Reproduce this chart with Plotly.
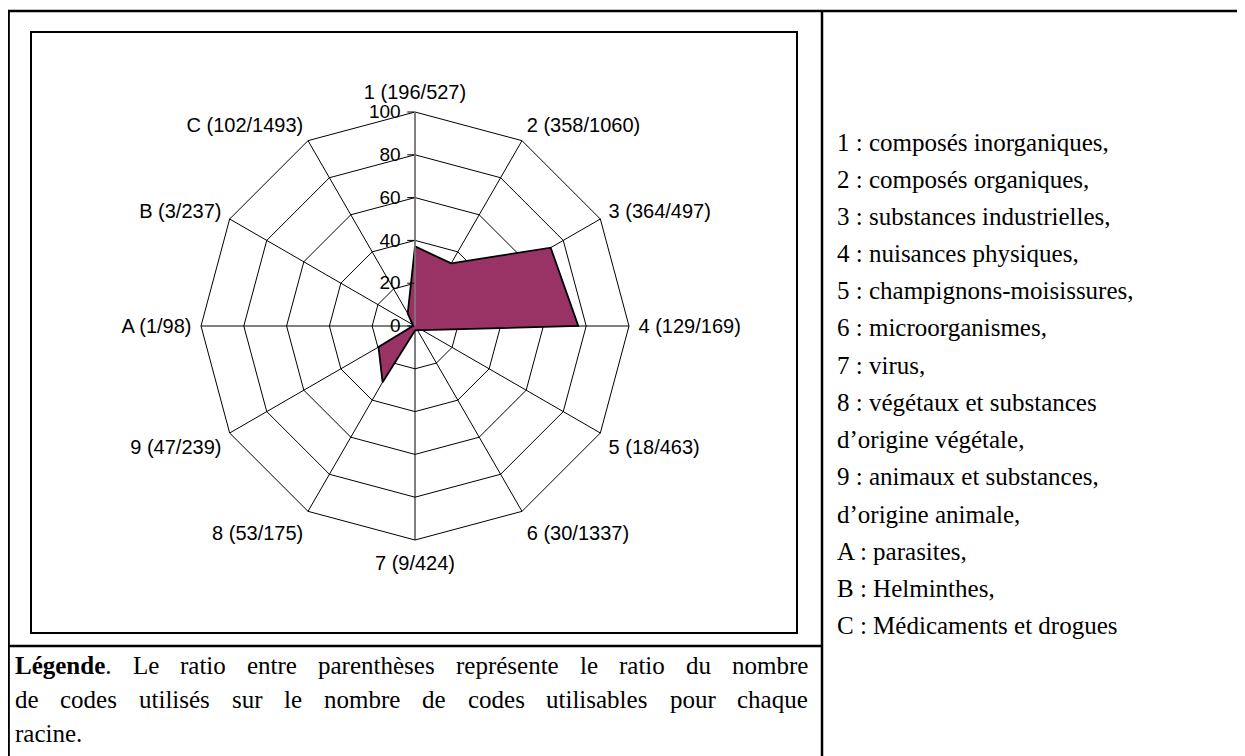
import plotly.graph_objects as go

# ---------------- data ----------------
codes = ["1", "2", "3", "4", "5", "6", "7", "8", "9", "A", "B", "C"]
used = [196, 358, 364, 129, 18, 30, 9, 53, 47, 1, 3, 102]
usable = [527, 1060, 497, 169, 463, 1337, 424, 175, 239, 98, 237, 1493]
values = [37.2, 33.8, 73.2, 76.3, 3.9, 2.2, 2.1, 30.3, 19.7, 1.0, 1.3, 6.8]
radial_ticks = [0, 20, 40, 60, 80, 100]

legend_lines = [
    "1 : composés inorganiques,",
    "2 : composés organiques,",
    "3 : substances industrielles,",
    "4 : nuisances physiques,",
    "5 : champignons-moisissures,",
    "6 : microorganismes,",
    "7 : virus,",
    "8 : végétaux et substances",
    "d\u2019origine végétale,",
    "9 : animaux et substances,",
    "d\u2019origine animale,",
    "A : parasites,",
    "B : Helminthes,",
    "C : Médicaments et drogues",
]
caption_lines = [
    ["<b>Légende</b>.", "Le", "ratio", "entre", "parenthèses", "représente", "le", "ratio", "du", "nombre"],
    ["de", "codes", "utilisés", "sur", "le", "nombre", "de", "codes", "utilisables", "pour", "chaque"],
    ["racine."],
]

labels = [f"{c} ({u}/{t})" for c, u, t in zip(codes, used, usable)]

# page has an 8px body margin: work in window pixels and convert
OFF = 8
WIN_W, WIN_H = 1245, 756
W, H = WIN_W - OFF, WIN_H - OFF
SANS = "Liberation Sans, Arial, sans-serif"
SERIF = "Liberation Serif, Times New Roman, serif"

def px(x):
    return (x - OFF) / W

def py(y):
    return 1 - (y - OFF) / H

# chart geometry (window pixels)
cx, cy, R = 415, 326, 214

fig = go.Figure()
fig.add_trace(go.Scatterpolar(
    r=values + values[:1],
    theta=labels + labels[:1],
    mode="lines",
    fill="toself",
    fillcolor="#993366",
    line=dict(color="black", width=1.8),
    hoverinfo="skip",
))

fig.update_layout(
    width=W, height=H,
    margin=dict(l=0, r=0, t=0, b=0),
    paper_bgcolor="white",
    showlegend=False,
    polar=dict(
        domain=dict(x=[px(cx - R), px(cx + R)], y=[py(cy + R), py(cy - R)]),
        bgcolor="white",
        gridshape="linear",
        angularaxis=dict(
            categoryorder="array", categoryarray=labels,
            direction="clockwise", rotation=90,
            showline=True, linecolor="black", linewidth=1,
            showgrid=True, gridcolor="black", gridwidth=1,
            ticks="outside", ticklen=5, tickcolor="rgba(0,0,0,0)",
            tickfont=dict(family=SANS, size=20, color="black"),
        ),
        radialaxis=dict(
            range=[0, 100], angle=90, side="counterclockwise",
            tickvals=radial_ticks, ticktext=[str(v) for v in radial_ticks],
            showline=True, linecolor="#808080", linewidth=1.5,
            showgrid=True, gridcolor="black", gridwidth=1,
            ticks="outside", ticklen=7, tickcolor="black",
            tickfont=dict(family=SANS, size=19, color="black"),
            tickangle=90,
        ),
    ),
)

# ---------- table / box lines ----------
def hline(x0, x1, y, w):
    fig.add_shape(type="line", xref="paper", yref="paper",
                  x0=px(x0), x1=px(x1), y0=py(y), y1=py(y),
                  line=dict(color="black", width=w))

def vline(x, y0, y1, w):
    fig.add_shape(type="line", xref="paper", yref="paper",
                  x0=px(x), x1=px(x), y0=py(y0), y1=py(y1),
                  line=dict(color="black", width=w))

hline(7, WIN_W + 5, 11, 2.5)          # top border
vline(8.6, 10, WIN_H + 5, 2.5)        # left border
vline(822, 10, WIN_H + 5, 2.5)        # column divider
hline(7, 823, 646, 2.5)               # row divider
fig.add_shape(type="rect", xref="paper", yref="paper",
              x0=px(31), x1=px(797), y0=py(633), y1=py(32),
              line=dict(color="black", width=2))

# ---------- right-hand legend ----------
FS = 25
y0, dy = 142, 37.2
for i, t in enumerate(legend_lines):
    fig.add_annotation(x=px(835), y=py(y0 + i * dy), xref="paper", yref="paper",
                       text=t, showarrow=False, xanchor="left", yanchor="middle",
                       font=dict(family=SERIF, size=FS, color="black"))

# ---------- justified caption ----------
TW = {'a': 444, 'b': 500, 'c': 444, 'd': 500, 'e': 444, 'é': 444, 'è': 444, 'f': 333,
      'g': 500, 'h': 500, 'i': 278, 'l': 278, 'm': 778, 'n': 500, 'o': 500, 'p': 500,
      'q': 500, 'r': 333, 's': 389, 't': 278, 'u': 500, 'v': 500, '.': 250, 'L': 611}
TB = {'L': 667, 'é': 444, 'g': 500, 'e': 444, 'n': 556, 'd': 556}

def word_width(w, fs):
    if w.startswith("<b>"):
        inner = w[3:w.index("</b>")]
        rest = w[w.index("</b>") + 4:]
        em = sum(TB.get(ch, 500) for ch in inner) + sum(TW.get(ch, 500) for ch in rest)
    else:
        em = sum(TW.get(ch, 500) for ch in w)
    return em / 1000 * fs

CFS = 25
left, right = 13, 806
cap_y0, cap_dy = 665, 34
for li, words in enumerate(caption_lines):
    yy = cap_y0 + li * cap_dy
    widths = [word_width(w, CFS) for w in words]
    if len(words) > 1 and li < len(caption_lines) - 1:
        gap = (right - left - sum(widths)) / (len(words) - 1)
    else:
        gap = 0.25 * CFS
    x = left
    for w, ww in zip(words, widths):
        fig.add_annotation(x=px(x), y=py(yy), xref="paper", yref="paper",
                           text=w, showarrow=False, xanchor="left", yanchor="middle",
                           font=dict(family=SERIF, size=CFS, color="black"))
        x += ww + gap

fig.write_html("out.html")
